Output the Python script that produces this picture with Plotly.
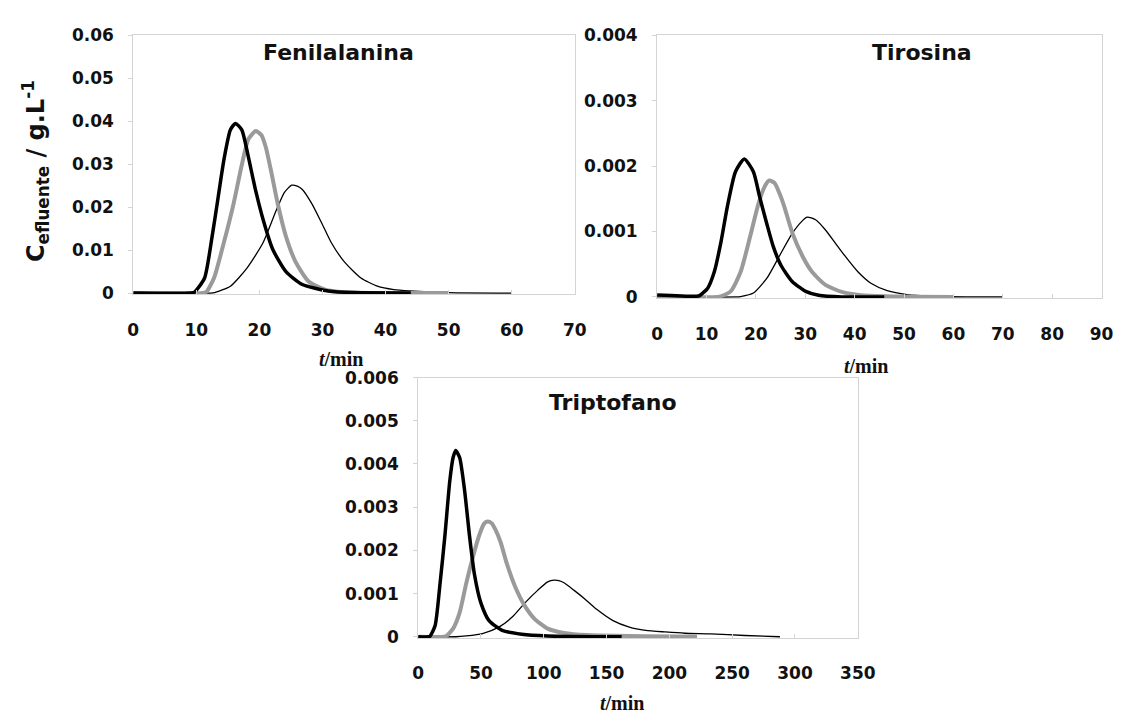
import plotly.graph_objects as go

# ---------------- Data ----------------
# Fenilalanina
fen_black_t = [0, 9.0, 9.7, 11.3, 12.5, 13.3, 14.4, 15.4, 16.2, 17.2, 18.2, 19.3, 20.6, 22.1, 24.2, 26.8, 30.9, 35, 44]
fen_black_c = [0, 0, 0.0002, 0.0035, 0.0132, 0.0208, 0.0313, 0.038, 0.0395, 0.038, 0.032, 0.0245, 0.017, 0.0102, 0.005, 0.002, 0.0005, 0.0001, 0]
fen_gray_t = [0, 11.0, 11.6, 12.8, 14.35, 15.9, 17.2, 18.24, 19.43, 20.3, 21.0, 21.86, 22.9, 24.2, 25.75, 27.8, 30.4, 33.5, 40, 50]
fen_gray_c = [0, 0, 0.0003, 0.0035, 0.0117, 0.0208, 0.0298, 0.0358, 0.0377, 0.0368, 0.034, 0.0283, 0.0208, 0.0132, 0.0072, 0.0027, 0.0008, 0.0002, 0, 0]
fen_thin_t = [0, 12.2, 12.9, 15.4, 17.96, 20.57, 22.65, 23.94, 25.1, 26.0, 26.8, 28.3, 29.9, 31.4, 33.5, 36.1, 38.7, 41.3, 43.8, 50, 60]
fen_thin_c = [0, 0, 0.0001, 0.0016, 0.0057, 0.0117, 0.0192, 0.0234, 0.0251, 0.0249, 0.0241, 0.0208, 0.0162, 0.0117, 0.0072, 0.0035, 0.0016, 0.0008, 0.0005, 0.0001, 0]

# Tirosina (g/L)
tir_black_t = [0, 8.0, 8.6, 10.25, 11.57, 12.9, 14.2, 15.87, 17.66, 19.5, 20.8, 22.2, 23.5, 25.1, 27.4, 30.1, 32.7, 37.4, 46]
tir_black_c = [0.00003, 0.00001, 0.00002, 0.000134, 0.00038, 0.000826, 0.00137, 0.001914, 0.00211, 0.001914, 0.00152, 0.001123, 0.000777, 0.00048, 0.000233, 0.000085, 0.000025, 0, 0]
tir_gray_t = [0, 12.3, 12.9, 14.9, 16.9, 18.85, 20.5, 21.8, 22.7, 23.8, 24.8, 25.8, 27.4, 29.4, 31.4, 34.1, 37.4, 41.3, 46, 60]
tir_gray_c = [0, 0, 0.00001, 0.000085, 0.00038, 0.000926, 0.00142, 0.00169, 0.00178, 0.00174, 0.00158, 0.00137, 0.000975, 0.00063, 0.00038, 0.000184, 0.000077, 0.000025, 0.00001, 0]
tir_thin_t = [0, 16.2, 16.9, 19.5, 22.2, 24.8, 27.4, 29.4, 30.4, 32.1, 34.1, 36.05, 38.0, 40.7, 43.3, 46.6, 50.6, 55.9, 62.5, 70]
tir_thin_c = [0, 0, 0.000005, 0.00006, 0.000282, 0.00063, 0.000975, 0.001163, 0.00122, 0.00118, 0.001024, 0.000827, 0.00063, 0.00038, 0.000208, 0.000095, 0.000036, 0.00001, 0, 0]

# Triptofano (g/L)
tri_black_t = [0, 8.5, 9.6, 13.5, 17.4, 21.3, 25.2, 27.8, 29.9, 33.0, 36.9, 40.8, 44.7, 49.9, 56.4, 66.8, 82.4, 103, 162]
tri_black_c = [0, 0, 0.00002, 0.00026, 0.00123, 0.00235, 0.00362, 0.00415, 0.00431, 0.00415, 0.0034, 0.00235, 0.00146, 0.000785, 0.000374, 0.000149, 0.00006, 0.00002, 0]
tri_gray_t = [0, 20.5, 22.6, 27.8, 33.0, 38.2, 43.4, 48.6, 52.5, 55.1, 58.5, 61.5, 65.5, 70.7, 77.2, 85.0, 92.8, 103.1, 116.1, 134.3, 222]
tri_gray_c = [0, 0, 0.00002, 0.00019, 0.00056, 0.00123, 0.00183, 0.00235, 0.00262, 0.00267, 0.00263, 0.00248, 0.0022, 0.00168, 0.00116, 0.00071, 0.00041, 0.00019, 0.00009, 0.00004, 0]
tri_thin_t = [0, 30, 38.2, 51.2, 64.2, 74.6, 85, 95.3, 103.1, 108.3, 112.0, 116.1, 123.9, 131.7, 142.1, 155.1, 168.1, 181.1, 196.7, 212.3, 233, 260, 288]
tri_thin_c = [0, 0, 0.00002, 0.000075, 0.000224, 0.00045, 0.000785, 0.00108, 0.00127, 0.00131, 0.0013, 0.00125, 0.00108, 0.0009, 0.000635, 0.000374, 0.000224, 0.000149, 0.000112, 0.000082, 0.000067, 0.00003, 0]

# Tick values / labels
fen_yticks = [0, 0.01, 0.02, 0.03, 0.04, 0.05, 0.06]
fen_ylabels = ["0", "0.01", "0.02", "0.03", "0.04", "0.05", "0.06"]
fen_xticks = [0, 10, 20, 30, 40, 50, 60, 70]
tir_yticks = [0, 0.001, 0.002, 0.003, 0.004]
tir_ylabels = ["0", "0.001", "0.002", "0.003", "0.004"]
tir_xticks = [0, 10, 20, 30, 40, 50, 60, 70, 80, 90]
tri_yticks = [0, 0.001, 0.002, 0.003, 0.004, 0.005, 0.006]
tri_ylabels = ["0", "0.001", "0.002", "0.003", "0.004", "0.005", "0.006"]
tri_xticks = [0, 50, 100, 150, 200, 250, 300, 350]

panel_titles = ["Fenilalanina", "Tirosina", "Triptofano"]
x_title = "<i>t</i>/min"
y_title = "C<sub>efluente</sub> / g.L<sup>-1</sup>"

# ---------------- Figure ----------------
W, H = 1147, 724
fig = go.Figure()

BLACK = "#000000"
GRAY = "#9a9a9a"
SM = 0.6

def add_set(xa, ya, bt, bc, gt, gc, tt, tc):
    fig.add_trace(go.Scatter(x=tt, y=tc, xaxis=xa, yaxis=ya, mode="lines",
                             line=dict(color=BLACK, width=1.3, shape="spline", smoothing=SM),
                             showlegend=False, hoverinfo="skip"))
    fig.add_trace(go.Scatter(x=gt, y=gc, xaxis=xa, yaxis=ya, mode="lines",
                             line=dict(color=GRAY, width=4, shape="spline", smoothing=SM),
                             showlegend=False, hoverinfo="skip"))
    fig.add_trace(go.Scatter(x=bt, y=bc, xaxis=xa, yaxis=ya, mode="lines",
                             line=dict(color=BLACK, width=3.5, shape="spline", smoothing=SM),
                             showlegend=False, hoverinfo="skip"))

add_set("x", "y", fen_black_t, fen_black_c, fen_gray_t, fen_gray_c, fen_thin_t, fen_thin_c)
add_set("x2", "y2", tir_black_t, tir_black_c, tir_gray_t, tir_gray_c, tir_thin_t, tir_thin_c)
add_set("x3", "y3", tri_black_t, tri_black_c, tri_gray_t, tri_gray_c, tri_thin_t, tri_thin_c)

SANS = "DejaVu Sans, Liberation Sans, Arial, sans-serif"
tickfont = dict(family=SANS, size=17, color="#111111", weight="bold")
BORDER = "#d4d4d4"

def px_x(a, b):
    return [a / W, b / W]

def px_y(top, bottom):
    return [1 - bottom / H, 1 - top / H]

def xaxis(dom, rng, ticks, anchor):
    return dict(domain=dom, range=rng, tickvals=ticks, ticktext=[str(t) for t in ticks],
                tickfont=tickfont, showgrid=False, zeroline=False, showline=True,
                linecolor=BORDER, linewidth=1, mirror=True, ticks="inside", ticklen=4,
                tickcolor=BORDER, anchor=anchor, ticklabelstandoff=20, fixedrange=True)

def yaxis(dom, top, ticks, labels, anchor):
    return dict(domain=dom, range=[-0.005 * top, top], tickvals=ticks, ticktext=labels,
                tickfont=tickfont, showgrid=False, zeroline=False, showline=True,
                linecolor=BORDER, linewidth=1, mirror=True, ticks="outside", ticklen=4,
                tickcolor=BORDER, anchor=anchor, ticklabelstandoff=11, fixedrange=True)

fig.update_layout(
    width=W, height=H, autosize=False,
    margin=dict(l=0, r=0, t=0, b=0),
    paper_bgcolor="white", plot_bgcolor="white",
    xaxis=xaxis(px_x(130, 581), [0, 70], fen_xticks, "y"),
    yaxis=yaxis(px_y(26, 292), 0.06, fen_yticks, fen_ylabels, "x"),
    xaxis2=xaxis(px_x(665, 1119), [0, 90], tir_xticks, "y2"),
    yaxis2=yaxis(px_y(26, 296), 0.004, tir_yticks, tir_ylabels, "x2"),
    xaxis3=xaxis(px_x(421, 870), [0, 350], tri_xticks, "y3"),
    yaxis3=yaxis(px_y(377.5, 645), 0.006, tri_yticks, tri_ylabels, "x3"),
)

title_font = dict(family=SANS, size=22, color="#111111", weight="bold")
xt_font = dict(family="Liberation Serif, Times New Roman, serif", size=20, color="#111111", weight="bold")

def ann(text, x, y, font, angle=0):
    fig.add_annotation(text=text, x=x / W, y=1 - y / H, xref="paper", yref="paper",
                       showarrow=False, font=font, textangle=angle,
                       xanchor="center", yanchor="middle")

ann(panel_titles[0], 340, 44, title_font)
ann(panel_titles[1], 936, 44, title_font)
ann(panel_titles[2], 620, 403, title_font)

ann(x_title, 342, 358, xt_font)
ann(x_title, 878, 366, xt_font)
ann(x_title, 629, 712, xt_font)

ann(y_title, 30, 165, dict(family=SANS, size=24, color="#111111", weight="bold"), angle=-90)

fig.write_html("out.html", config={"displayModeBar": False},
               post_script="document.body.style.margin='0px';document.body.style.padding='0px';")
